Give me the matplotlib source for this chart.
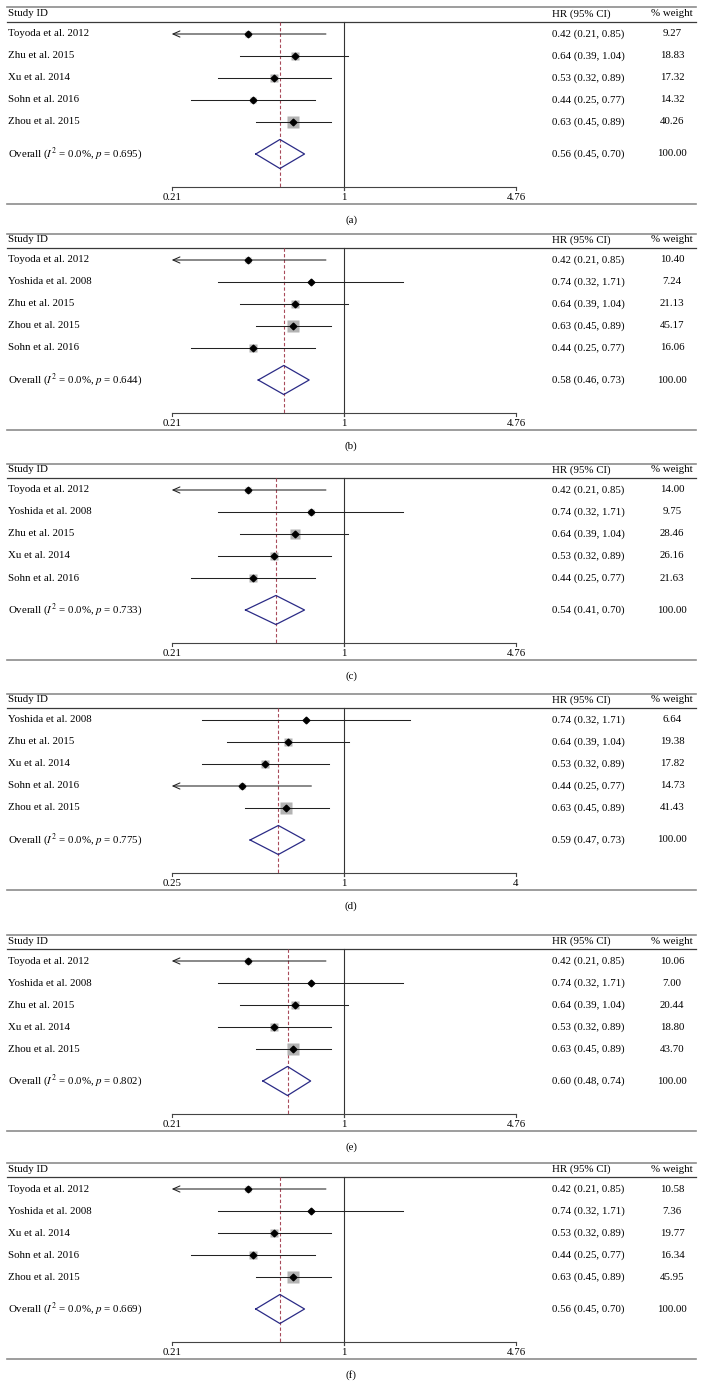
import numpy as np
import matplotlib
matplotlib.use("Agg")
import matplotlib.pyplot as plt
from matplotlib import transforms

plt.rcParams['font.family'] = ['Liberation Serif', 'DejaVu Serif']
plt.rcParams['mathtext.fontset'] = 'stix'

# study level results (same HR / CI in every panel)
studies = ["Toyoda et al. 2012", "Yoshida et al. 2008", "Zhu et al. 2015",
           "Xu et al. 2014", "Sohn et al. 2016", "Zhou et al. 2015"]
hr = [0.42, 0.74, 0.64, 0.53, 0.44, 0.63]
ci_lo = [0.21, 0.32, 0.39, 0.32, 0.25, 0.45]
ci_hi = [0.85, 1.71, 1.04, 0.89, 0.77, 0.89]

# which studies go in each panel, in drawing order
order_a = ["Toyoda et al. 2012", "Zhu et al. 2015", "Xu et al. 2014", "Sohn et al. 2016", "Zhou et al. 2015"]
order_b = ["Toyoda et al. 2012", "Yoshida et al. 2008", "Zhu et al. 2015", "Zhou et al. 2015", "Sohn et al. 2016"]
order_c = ["Toyoda et al. 2012", "Yoshida et al. 2008", "Zhu et al. 2015", "Xu et al. 2014", "Sohn et al. 2016"]
order_d = ["Yoshida et al. 2008", "Zhu et al. 2015", "Xu et al. 2014", "Sohn et al. 2016", "Zhou et al. 2015"]
order_e = ["Toyoda et al. 2012", "Yoshida et al. 2008", "Zhu et al. 2015", "Xu et al. 2014", "Zhou et al. 2015"]
order_f = ["Toyoda et al. 2012", "Yoshida et al. 2008", "Xu et al. 2014", "Sohn et al. 2016", "Zhou et al. 2015"]

weight_a = [9.27, 18.83, 17.32, 14.32, 40.26]
weight_b = [10.40, 7.24, 21.13, 45.17, 16.06]
weight_c = [14.00, 9.75, 28.46, 26.16, 21.63]
weight_d = [6.64, 19.38, 17.82, 14.73, 41.43]
weight_e = [10.06, 7.00, 20.44, 18.80, 43.70]
weight_f = [10.58, 7.36, 19.77, 16.34, 45.95]

# pooled estimate (HR, lo, hi) and heterogeneity p
overall_hr = [0.56, 0.58, 0.54, 0.59, 0.60, 0.56]
overall_lo = [0.45, 0.46, 0.41, 0.47, 0.48, 0.45]
overall_hi = [0.70, 0.73, 0.70, 0.73, 0.74, 0.70]
het_p = ["0.695", "0.644", "0.733", "0.775", "0.802", "0.669"]

axis_ticks = [[0.21, 1, 4.76]] * 3 + [[0.25, 1, 4]] + [[0.21, 1, 4.76]] * 2
tick_text = [["0.21", "1", "4.76"]] * 3 + [["0.25", "1", "4"]] + [["0.21", "1", "4.76"]] * 2
panel_names = ["(a)", "(b)", "(c)", "(d)", "(e)", "(f)"]

orders = [order_a, order_b, order_c, order_d, order_e, order_f]
weights = [weight_a, weight_b, weight_c, weight_d, weight_e, weight_f]
panel_top = [7, 233, 463, 693, 934, 1162]   # pixel of each panel's top rule

W, H = 703, 1397
fig = plt.figure(figsize=(W / 100, H / 100), dpi=100)

FS = 7.8
navy = '#2b2b86'
red = '#a84a5a'


def py(p):
    # panel-relative pixel -> row units (row 1 at 27 px, 22 px per row)
    return 1 + (p - 27) / 22.0


for k in range(6):
    T = panel_top[k]
    ax = fig.add_axes([171.7 / W, 1 - (T + 197) / H, 344.3 / W, 197 / H])
    ticks = axis_ticks[k]
    xmin, xmax = ticks[0], ticks[-1]
    ax.set_xscale('log')
    ax.set_xlim(xmin, xmax)
    ax.set_ylim(py(197), py(0))
    ax.axis('off')
    tr = transforms.blended_transform_factory(fig.transFigure, ax.transData)

    # horizontal rules
    ax.plot([7 / W, 696 / W], [py(0.5), py(0.5)], color='#8c8c8c', lw=1.2,
            transform=tr, clip_on=False)
    ax.plot([7 / W, 696 / W], [py(14.5), py(14.5)], color='#3a3a3a', lw=0.9,
            transform=tr, clip_on=False)
    ax.plot([7 / W, 696 / W], [py(196.5), py(196.5)], color='#8c8c8c', lw=1.2,
            transform=tr, clip_on=False)

    # header
    ax.text(8 / W, py(7), "Study ID", transform=tr, fontsize=FS, va='center', ha='left')
    ax.text(552 / W, py(7), "HR (95% CI)", transform=tr, fontsize=FS, va='center', ha='left')
    ax.text(672 / W, py(7), "% weight", transform=tr, fontsize=FS, va='center', ha='center')

    y_axis = py(180)
    # null line and pooled dashed line
    ax.plot([1, 1], [py(14.5), y_axis + 0.14], color='#333333', lw=0.8)
    ax.plot([overall_hr[k]] * 2, [py(14.5), y_axis], color=red, lw=0.8,
            dashes=(3, 2))

    for i, (name, w) in enumerate(zip(orders[k], weights[k])):
        y = i + 1
        j = studies.index(name)
        side = 1.75 * np.sqrt(w) * 0.72
        ax.plot(hr[j], y, marker='s', ms=side, color='#b3b3b3', mec='none', zorder=2)
        if ci_lo[j] <= xmin:
            ax.annotate('', xy=(xmin, y), xytext=(ci_hi[j], y),
                        arrowprops=dict(arrowstyle='->,head_length=0.5,head_width=0.22',
                                        lw=0.75, color='#222222', shrinkA=0, shrinkB=0),
                        zorder=3)
        else:
            ax.plot([ci_lo[j], ci_hi[j]], [y, y], color='#222222', lw=0.75, zorder=3)
        ax.plot(hr[j], y, marker='D', ms=3.4, color='black', mec='black', zorder=4)
        ax.text(8 / W, y, name, transform=tr, fontsize=FS, va='center', ha='left')
        ax.text(552 / W, y, "%.2f (%.2f, %.2f)" % (hr[j], ci_lo[j], ci_hi[j]),
                transform=tr, fontsize=FS, va='center', ha='left')
        ax.text(672 / W, y, "%.2f" % w, transform=tr, fontsize=FS, va='center', ha='center')

    # pooled diamond
    yo = py(147)
    hh = 0.66
    ax.plot([overall_lo[k], overall_hr[k], overall_hi[k], overall_hr[k], overall_lo[k]],
            [yo, yo - hh, yo, yo + hh, yo], color=navy, lw=0.9, zorder=4)
    ax.text(8 / W, yo, r"Overall ($I^2$ = 0.0%, $p$ = " + het_p[k] + ")",
            transform=tr, fontsize=FS, va='center', ha='left')
    ax.text(552 / W, yo, "%.2f (%.2f, %.2f)" % (overall_hr[k], overall_lo[k], overall_hi[k]),
            transform=tr, fontsize=FS, va='center', ha='left')
    ax.text(672 / W, yo, "100.00", transform=tr, fontsize=FS, va='center', ha='center')

    # x axis
    ax.plot([xmin, xmax], [y_axis, y_axis], color='#444444', lw=0.8, clip_on=False)
    for t, lab in zip(ticks, tick_text[k]):
        ax.plot([t, t], [y_axis, y_axis + 0.14], color='#444444', lw=0.8, clip_on=False)
        ax.text(t, py(190.5), lab, fontsize=FS, ha='center', va='center')

    ax.text(351 / W, py(213), panel_names[k], transform=tr, fontsize=FS,
            ha='center', va='center')

fig.savefig("out.png", dpi=100)
